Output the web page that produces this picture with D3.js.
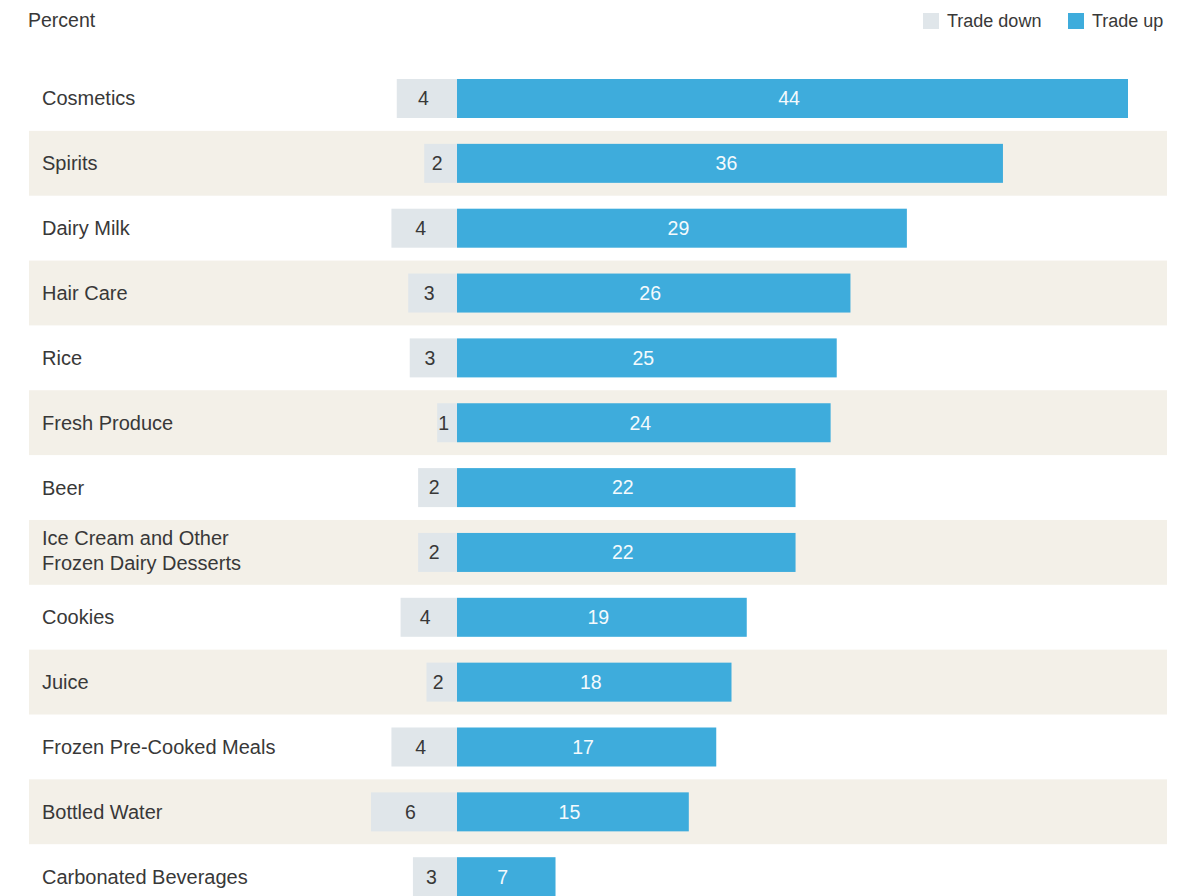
<!DOCTYPE html>
<html>
<head>
<meta charset="utf-8">
<script src="https://cdn.jsdelivr.net/npm/d3@7"></script>
<style>
  body { margin: 0; background: #fff; }
  text { font-family: "Liberation Sans", Arial, Helvetica, sans-serif; }
</style>
</head>
<body>
<div class="chart"></div>
<script>
const categories = [
  "Cosmetics",
  "Spirits",
  "Dairy Milk",
  "Hair Care",
  "Rice",
  "Fresh Produce",
  "Beer",
  "Ice Cream and Other|Frozen Dairy Desserts",
  "Cookies",
  "Juice",
  "Frozen Pre-Cooked Meals",
  "Bottled Water",
  "Carbonated Beverages",
];
// bar lengths, labels as printed
const tradeDown = [3.95, 2.15, 4.3, 3.2, 3.1, 1.3, 2.55, 2.55, 3.7, 2.0, 4.3, 5.64, 2.89];
const tradeUp = [44.0, 35.8, 29.5, 25.8, 24.9, 24.5, 22.2, 22.2, 19.0, 18.0, 17.0, 15.2, 6.46];
const tradeDownLabels = ["4", "2", "4", "3", "3", "1", "2", "2", "4", "2", "4", "6", "3"];
const tradeUpLabels = ["44", "36", "29", "26", "25", "24", "22", "22", "19", "18", "17", "15", "7"];

const width = 1197;
const height = 896;
const upColor = "#3eacdc";
const downColor = "#e0e6ea";
const bandColor = "#f3f0e8";
const textColor = "#383838";

const svg = d3
  .select(".chart")
  .append("svg")
  .attr("width", width)
  .attr("height", height);

const x = d3.scaleLinear().domain([0, 44]).range([457, 1128]);

const y = d3
  .scaleBand()
  .domain(categories)
  .range([66, 66 + categories.length * 64.85]);

const rows = svg
  .selectAll(".row")
  .data(categories)
  .enter()
  .append("g")
  .attr("class", "row")
  .attr("transform", (d) => `translate(0,${y(d)})`);

// alternating background bands
rows
  .append("rect")
  .attr("x", 29)
  .attr("width", 1167 - 29)
  .attr("height", y.bandwidth())
  .attr("fill", (d, i) => (i % 2 === 1 ? bandColor : "none"));

// category labels
rows.each(function (d) {
  const lines = d.split("|");
  const t = d3
    .select(this)
    .append("text")
    .attr("y", y.bandwidth() / 2 - (lines.length - 1) * 12.5 - (lines.length - 1) * 1.5)
    .style("font-size", "20px")
    .attr("fill", textColor);
  lines.forEach((line, j) => {
    t.append("tspan")
      .attr("x", 42)
      .attr("dy", j === 0 ? "0.35em" : "25px")
      .text(line);
  });
});

const barTop = 13;
const barH = 39;
const labelShift = -3.5;

// trade down bars
rows
  .append("rect")
  .attr("x", (d, i) => x(-tradeDown[i]))
  .attr("y", barTop)
  .attr("width", (d, i) => x(0) - x(-tradeDown[i]))
  .attr("height", barH)
  .attr("fill", downColor);

rows
  .append("text")
  .attr("x", (d, i) => (x(-tradeDown[i]) + x(0)) / 2 + labelShift)
  .attr("y", barTop + barH / 2)
  .attr("dy", "0.35em")
  .attr("text-anchor", "middle")
  .style("font-size", "19.5px")
  .attr("fill", textColor)
  .text((d, i) => tradeDownLabels[i]);

// trade up bars
rows
  .append("rect")
  .attr("x", x(0))
  .attr("y", barTop)
  .attr("width", (d, i) => x(tradeUp[i]) - x(0))
  .attr("height", barH)
  .attr("fill", upColor);

rows
  .append("text")
  .attr("x", (d, i) => (x(0) + x(tradeUp[i])) / 2 + labelShift)
  .attr("y", barTop + barH / 2)
  .attr("dy", "0.35em")
  .attr("text-anchor", "middle")
  .style("font-size", "19.5px")
  .attr("fill", "#f4fafd")
  .text((d, i) => tradeUpLabels[i]);

// axis unit
svg
  .append("text")
  .attr("x", 28)
  .attr("y", 27)
  .style("font-size", "19.5px")
  .attr("fill", textColor)
  .text("Percent");

// legend
const legend = [
  { name: "Trade down", color: downColor, x: 923 },
  { name: "Trade up", color: upColor, x: 1068 },
];
const lg = svg
  .selectAll(".legend")
  .data(legend)
  .enter()
  .append("g")
  .attr("class", "legend")
  .attr("transform", (d) => `translate(${d.x},13)`);
lg.append("rect")
  .attr("width", 16)
  .attr("height", 16)
  .attr("fill", (d) => d.color);
lg.append("text")
  .attr("x", 24)
  .attr("y", 8)
  .attr("dy", "0.35em")
  .style("font-size", "18px")
  .attr("fill", textColor)
  .text((d) => d.name);
</script>
</body>
</html>
